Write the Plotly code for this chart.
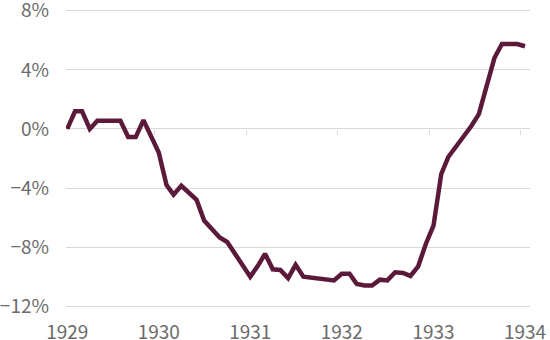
import plotly.graph_objects as go
import pandas as pd

# Monthly observations, Jan 1929 .. Jan 1934
months = pd.date_range("1929-01-01", "1934-01-01", freq="MS").strftime("%Y-%m-%d").tolist()
values = [
    0.0, 1.2, 1.2, 0.0, 0.55, 0.55, 0.55, 0.55, -0.55, -0.55, 0.6, -0.4,   # 1929
    -1.6, -3.8, -4.45, -3.85, -4.3, -4.8, -6.2, -6.75, -7.35, -7.65, -8.4, -9.2,  # 1930
    -10.0, -9.25, -8.45, -9.5, -9.55, -10.1, -9.2, -10.0, -10.05, -10.15, -10.2, -10.25,  # 1931
    -9.8, -9.8, -10.5, -10.6, -10.6, -10.2, -10.25, -9.7, -9.75, -9.95, -9.3, -7.8,  # 1932
    -6.55, -3.05, -1.9, -1.2, -0.5, 0.2, 1.0, 3.0, 4.8, 5.75, 5.75, 5.75,  # 1933
    5.6,  # 1934
]

year_ticks = ["1929-01-01", "1930-01-01", "1931-01-01", "1932-01-01", "1933-01-01", "1934-01-01"]
year_labels = ["1929", "1930", "1931", "1932", "1933", "1934"]
boundary_ticks = ["1929-12-16", "1930-12-16", "1931-12-16", "1932-12-16", "1933-12-16"]
y_ticks = [-12, -8, -4, 0, 4, 8]
y_labels = ["\u221212%", "\u22128%", "\u22124%", "0%", "4%", "8%"]

x_range = ["1928-12-27", "1934-01-21"]
y_range = [-12.12, 8.12]
font = dict(family="Noto Sans CJK KR", size=19, color="#6b6b6b")

fig = go.Figure()
fig.add_trace(go.Scatter(
    x=months, y=values, mode="lines",
    line=dict(color="#5c1a3b", width=4.5),
    hoverinfo="skip", showlegend=False,
))
# empty helper trace so the tick-mark axis on the 0% line is rendered
fig.add_trace(go.Scatter(
    x=boundary_ticks, y=[None] * len(boundary_ticks), xaxis="x2",
    mode="lines", hoverinfo="skip", showlegend=False,
))

fig.update_layout(
    width=550, height=340,
    margin=dict(l=66, r=20, t=9, b=32, pad=0),
    paper_bgcolor="white", plot_bgcolor="white",
    font=font,
    xaxis=dict(
        type="date", range=x_range,
        tickvals=year_ticks, ticktext=year_labels,
        showgrid=False, zeroline=False, showline=False,
        ticks="", ticklabelstandoff=11, automargin=False,
        ticklabeloverflow="allow",
        tickfont=font,
    ),
    xaxis2=dict(
        type="date", range=x_range, overlaying="x", anchor="free",
        position=(0 - y_range[0]) / (y_range[1] - y_range[0]),
        tickvals=boundary_ticks, showticklabels=False,
        ticks="outside", ticklen=5, tickwidth=1.3, tickcolor="#d9d9d9",
        showgrid=False, zeroline=False, showline=False,
    ),
    yaxis=dict(
        range=y_range, tickvals=y_ticks, ticktext=y_labels,
        showgrid=True, gridcolor="#d9d9d9", gridwidth=1.3,
        zeroline=False, showline=False, ticks="",
        ticklabelstandoff=16, automargin=False,
        ticklabeloverflow="allow",
        tickfont=font,
    ),
)

fig.write_html("out.html")
